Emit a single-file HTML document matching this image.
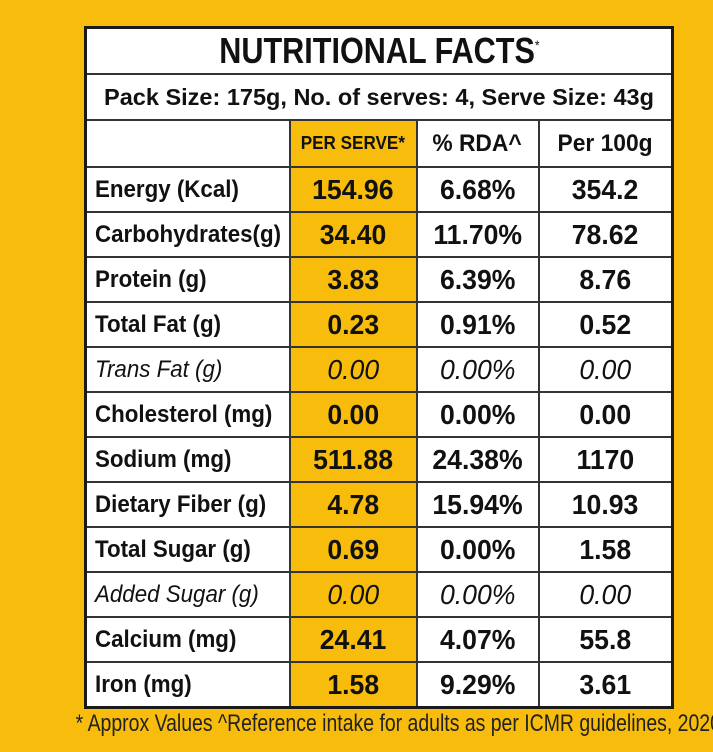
<!DOCTYPE html>
<html><head><meta charset="utf-8">
<style>
html,body{margin:0;padding:0;}
body{width:713px;height:752px;background:#F8BC0C;position:relative;overflow:hidden;font-family:"Liberation Sans Narrow","Liberation Sans",sans-serif;color:#111;}
table{position:absolute;left:84px;top:26px;width:587px;border-collapse:collapse;background:#fff;border:3px solid #1a1a1a;table-layout:fixed;}
td{border:2px solid #333;padding:0;height:43px;overflow:hidden;white-space:nowrap;}
span{display:inline-block;}
.title{height:44px;text-align:center;font-weight:bold;font-size:36px;}
.title span{transform:scaleX(0.85);}
.title sup{font-size:14px;font-weight:normal;}
.pack{height:44px;text-align:center;font-weight:bold;font-size:23.5px;}
.hdr td{height:45px;font-weight:bold;font-size:24px;text-align:center;}
.hdr td span{transform:scaleX(0.95);}
.ps{background:#F8BC0C;}
.hdr .ps{font-size:18px;}
.lbl{font-weight:bold;font-size:24px;padding-left:8px;}
.lbl span{transform:scaleX(0.93);transform-origin:left center;}
.val{font-weight:bold;font-size:28px;text-align:center;}
.val span{transform:scaleX(0.95);}
.it td{font-weight:normal;font-style:italic;}
.foot{position:absolute;left:0;width:713px;top:710px;text-align:center;font-size:24px;color:#222;white-space:nowrap;}
.foot span{transform:scaleX(0.81);}
</style></head><body>
<table>
<colgroup><col style="width:204px"><col style="width:127px"><col style="width:122px"><col style="width:134px"></colgroup>
<tr><td colspan="4" class="title"><span>NUTRITIONAL FACTS<sup>*</sup></span></td></tr>
<tr><td colspan="4" class="pack">Pack Size: 175g, No. of serves: 4, Serve Size: 43g</td></tr>
<tr class="hdr"><td></td><td class="ps"><span>PER SERVE*</span></td><td><span>% RDA^</span></td><td><span>Per 100g</span></td></tr>
<tr><td class="lbl"><span>Energy (Kcal)</span></td><td class="val ps"><span>154.96</span></td><td class="val"><span>6.68%</span></td><td class="val"><span>354.2</span></td></tr>
<tr><td class="lbl"><span>Carbohydrates(g)</span></td><td class="val ps"><span>34.40</span></td><td class="val"><span>11.70%</span></td><td class="val"><span>78.62</span></td></tr>
<tr><td class="lbl"><span>Protein (g)</span></td><td class="val ps"><span>3.83</span></td><td class="val"><span>6.39%</span></td><td class="val"><span>8.76</span></td></tr>
<tr><td class="lbl"><span>Total Fat (g)</span></td><td class="val ps"><span>0.23</span></td><td class="val"><span>0.91%</span></td><td class="val"><span>0.52</span></td></tr>
<tr class="it"><td class="lbl"><span>Trans Fat (g)</span></td><td class="val ps"><span>0.00</span></td><td class="val"><span>0.00%</span></td><td class="val"><span>0.00</span></td></tr>
<tr><td class="lbl"><span>Cholesterol (mg)</span></td><td class="val ps"><span>0.00</span></td><td class="val"><span>0.00%</span></td><td class="val"><span>0.00</span></td></tr>
<tr><td class="lbl"><span>Sodium (mg)</span></td><td class="val ps"><span>511.88</span></td><td class="val"><span>24.38%</span></td><td class="val"><span>1170</span></td></tr>
<tr><td class="lbl"><span>Dietary Fiber (g)</span></td><td class="val ps"><span>4.78</span></td><td class="val"><span>15.94%</span></td><td class="val"><span>10.93</span></td></tr>
<tr><td class="lbl"><span>Total Sugar (g)</span></td><td class="val ps"><span>0.69</span></td><td class="val"><span>0.00%</span></td><td class="val"><span>1.58</span></td></tr>
<tr class="it"><td class="lbl"><span>Added Sugar (g)</span></td><td class="val ps"><span>0.00</span></td><td class="val"><span>0.00%</span></td><td class="val"><span>0.00</span></td></tr>
<tr><td class="lbl"><span>Calcium (mg)</span></td><td class="val ps"><span>24.41</span></td><td class="val"><span>4.07%</span></td><td class="val"><span>55.8</span></td></tr>
<tr><td class="lbl"><span>Iron (mg)</span></td><td class="val ps"><span>1.58</span></td><td class="val"><span>9.29%</span></td><td class="val"><span>3.61</span></td></tr>
</table>
<div class="foot"><span>* Approx Values ^Reference intake for adults as per ICMR guidelines, 2020</span></div>
</body></html>
